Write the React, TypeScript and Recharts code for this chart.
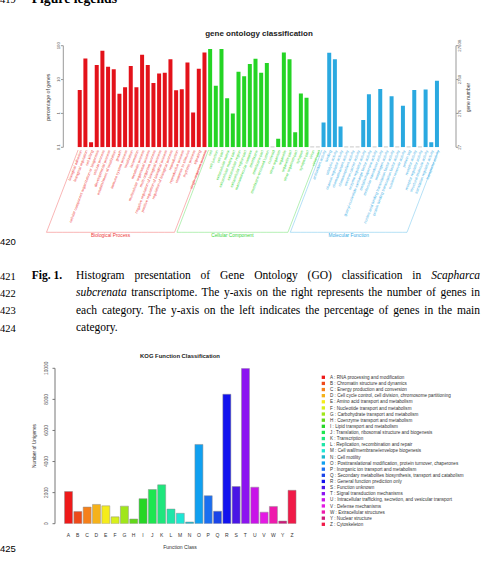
import React from 'react';
import { BarChart, Bar, XAxis, YAxis, Cell } from 'recharts';

const SANS = '"Liberation Sans", Arial, sans-serif';
const SERIF = '"Liberation Serif", "Times New Roman", serif';

// ---- Fig. 1: GO classification (percentage of genes, log scale) ----
const bpTerms = [
  'biological adhesion', 'biological regulation', 'cell killing',
  'cellular component organization or biogenesis', 'cellular process', 'developmental process',
  'establishment of localization', 'growth', 'immune system process', 'localization', 'locomotion',
  'metabolic process', 'multicellular organismal process', 'multi-organism process',
  'negative regulation of biological process', 'positive regulation of biological process',
  'regulation of biological process', 'reproduction', 'reproductive process', 'response to stimulus',
  'rhythmic process', 'signaling', 'single-organism process',
];
const bpPct = [4.9, 42, 0.14, 27, 71, 24, 20, 3.8, 5.9, 25, 5.9, 54, 27, 7.9, 15, 16, 40, 4.8, 5.2, 32, 1.07, 21, 63];

const ccTerms = [
  'cell', 'cell junction', 'cell part', 'extracellular matrix', 'extracellular matrix part',
  'extracellular region', 'extracellular region part', 'macromolecular complex', 'membrane',
  'membrane part', 'membrane-enclosed lumen', 'nucleoid', 'other organism', 'organelle',
  'organelle part', 'other organism part', 'synapse', 'synapse part', 'virion', 'virion part',
];
const ccPct = [80, 6.6, 80, 2.8, 1.0, 17, 12.6, 29, 41, 16, 31, 0, 0.18, 63, 40, 0.28, 3.9, 2.9, 0, 0];

const mfTerms = [
  'antioxidant activity', 'binding', 'catalytic activity', 'channel regulator activity',
  'chemoattractant activity', 'chemorepellent activity', 'electron carrier activity',
  'enzyme regulator activity', 'guanyl-nucleotide exchange factor activity', 'metallochaperone activity',
  'molecular transducer activity', 'morphogen activity', 'nucleic acid binding transcription factor activity',
  'protein binding transcription factor activity', 'nutrient reservoir activity', 'protein tag',
  'receptor activity', 'receptor regulator activity', 'structural molecule activity',
  'translation regulator activity', 'transporter activity',
];
const mfPct = [0.54, 62, 40, 0.41, 0, 0, 0, 0.64, 3.7, 0, 5.3, 0, 3.2, 0, 1.7, 0, 4.9, 0, 5.1, 0.14, 9.3];

const goGroupNames = ['Biological Process', 'Cellular Component', 'Molecular Function'];
const goBarColors = ['#e3121a', '#25d425', '#2aa9e0'];
const goTextColors = ['#ee3a3a', '#3ad63a', '#3aaee6'];
const goPctTicks = [0.1, 1, 10, 100];
const goTotalGenes = 27608;

// ---- Fig. 2: KOG function classification ----
const kogCodes = ['A', 'B', 'C', 'D', 'E', 'F', 'G', 'H', 'I', 'J', 'K', 'L', 'M', 'N', 'O', 'P', 'Q', 'R', 'S', 'T', 'U', 'V', 'W', 'Y', 'Z'];
const kogNames = [
  'RNA processing and modification',
  'Chromatin structure and dynamics',
  'Energy production and conversion',
  'Cell cycle control, cell division, chromosome partitioning',
  'Amino acid transport and metabolism',
  'Nucleotide transport and metabolism',
  'Carbohydrate transport and metabolism',
  'Coenzyme transport and metabolism',
  'Lipid transport and metabolism',
  'Translation, ribosomal structure and biogenesis',
  'Transcription',
  'Replication, recombination and repair',
  'Cell wall/membrane/envelope biogenesis',
  'Cell motility',
  'Posttranslational modification, protein turnover, chaperones',
  'Inorganic ion transport and metabolism',
  'Secondary metabolites biosynthesis, transport and catabolism',
  'General function prediction only',
  'Function unknown',
  'Signal transduction mechanisms',
  'Intracellular trafficking, secretion, and vesicular transport',
  'Defense mechanisms',
  'Extracellular structures',
  'Nuclear structure',
  'Cytoskeleton',
];
const kogCounts = [2070, 780, 1070, 1240, 1150, 440, 1130, 300, 1610, 2200, 2500, 940, 670, 110, 5100, 1800, 800, 8330, 2390, 10000, 2350, 740, 1110, 170, 2150];
const kogColors = [
  '#ee1a1a', '#ee4a1a', '#f5801a', '#f5b21a', '#f5ec1a', '#d8f01a', '#a0e61a', '#62d81a', '#26d626',
  '#1ee650', '#1ee67c', '#1ee6a8', '#1ee6d4', '#1ab8cc', '#10a0f0', '#1b6ef0', '#1a44e8', '#1212ee',
  '#4a16e6', '#8c14f0', '#c814e8', '#e41ae4', '#ee1aac', '#cc1a78', '#f01a48',
];
const kogTicks = [0, 2000, 4000, 6000, 8000, 10000];

type GoRow = { term: string; pct: number | null; group: number };
const goRows: GoRow[] = [
  ...bpTerms.map((term, i) => ({ term, pct: bpPct[i] || null, group: 0 })),
  ...ccTerms.map((term, i) => ({ term, pct: ccPct[i] || null, group: 1 })),
  ...mfTerms.map((term, i) => ({ term, pct: mfPct[i] || null, group: 2 })),
];
const groupSize = [bpTerms.length, ccTerms.length, mfTerms.length];
const groupStart = [0, groupSize[0], groupSize[0] + groupSize[1]];

const kogRows = kogCodes.map((code, i) => ({ code, count: kogCounts[i] }));

// layout of the GO panel
const GO_TOP = 45.7;
const GO_BOTTOM = 147.3;
const GO_LEFT = 63.3;
const GO_RIGHT = 456;
const GO_PAD_L = 13.6;
const GO_PAD_R = 16.2;
const GO_BAND = (GO_RIGHT - GO_LEFT - GO_PAD_L - GO_PAD_R) / goRows.length;
const LABEL_ANGLE = 69;
const BR_TOP = 2.7;
const BR_BOTTOM = 85;
const SLANT = (BR_BOTTOM - BR_TOP) / Math.tan((LABEL_ANGLE * Math.PI) / 180);

// layout of the KOG panel
const KOG_TOP = 368.3;
const KOG_BOTTOM = 523.7;
const KOG_LEFT = 55;
const KOG_RIGHT = 296.6;

function GoTick({ x, y, payload }: any) {
  const i = goRows.findIndex((r) => r.term === payload.value);
  if (i < 0) return null;
  const row = goRows[i];
  const g = row.group;
  const c = goTextColors[g];
  const first = i === groupStart[g];
  const last = i === groupStart[g] + groupSize[g] - 1;
  const inset = 1.2;
  const yt = y + BR_TOP;
  const yb = y + BR_BOTTOM;
  const l = x - GO_BAND / 2 + (first ? inset : 0);
  const r = x + GO_BAND / 2 - (last ? inset : 0);
  const mid = (groupSize[g] - 1) / 2;
  const isMid = i - groupStart[g] === Math.floor(mid);
  const labelX = x + (mid - Math.floor(mid)) * GO_BAND - SLANT;
  const br = { stroke: c, strokeWidth: 0.5, strokeOpacity: 0.75 };
  return (
    <g>
      {row.pct === null && (
        <line x1={x - 2} x2={x + 2} y1={y - 0.4} y2={y - 0.4} stroke="#bbbbbb" strokeWidth={0.8} />
      )}
      <text
        transform={`translate(${x + 1.2},${y + 3}) rotate(${-LABEL_ANGLE})`}
        textAnchor="end"
        dy="0.35em"
        fontSize={3.8}
        fill={c}
        fontFamily={SANS}
      >
        {row.term}
      </text>
      <line x1={l - SLANT} x2={r - SLANT} y1={yb} y2={yb} {...br} />
      {first && <line x1={l} y1={yt} x2={l - SLANT} y2={yb} {...br} />}
      {last && <line x1={r} y1={yt} x2={r - SLANT} y2={yb} {...br} />}
      {isMid && (
        <text x={labelX} y={yb + 5.1} textAnchor="middle" fontSize={4.8} fill={c} fontFamily={SANS}>
          {goGroupNames[g]}
        </text>
      )}
    </g>
  );
}

function VTick({ x, y, payload, shift, size, fmt }: any) {
  return (
    <text
      transform={`translate(${x + shift},${y}) rotate(-90)`}
      textAnchor="middle"
      dy="0.35em"
      fontSize={size}
      fill="#555"
      fontFamily={SANS}
    >
      {fmt(payload.value)}
    </text>
  );
}

function KogTick({ x, y, payload }: any) {
  return (
    <text x={x} y={y + 13.1} textAnchor="middle" fontSize={5} fill="#333" fontFamily={SANS}>
      {payload.value}
    </text>
  );
}

const abs = (left: number, top: number): React.CSSProperties => ({ position: 'absolute', left, top });

const capFont: React.CSSProperties = {
  fontFamily: SERIF,
  fontSize: 11.5,
  lineHeight: '11.5px',
  color: '#000',
};

function CapLine({ top, num, children, last }: { top: number; num: string; children: React.ReactNode; last?: boolean }) {
  return (
    <>
      <div style={{ ...abs(0, top + 0.5), ...capFont, fontSize: 10.5 }}>{num}</div>
      <div
        style={{
          ...abs(76, top),
          ...capFont,
          width: 404,
          textAlign: last ? 'left' : 'justify',
          textAlignLast: last ? 'left' : 'justify',
        }}
      >
        {children}
      </div>
    </>
  );
}

export default function App() {
  const legendY0 = 377.3;
  const legendStep = 6.125;
  return (
    <div style={{ position: 'absolute', left: 0, top: 0, width: 483, height: 568, overflow: 'hidden', background: '#fff' }}>
      {/* GO panel */}
      <div style={abs(0, 0)}>
        <BarChart
          width={483}
          height={568}
          data={goRows}
          margin={{ top: GO_TOP, right: 0, bottom: 568 - GO_BOTTOM - 100, left: 0 }}
          barCategoryGap="14.5%"
        >
          <XAxis
            dataKey="term"
            height={100}
            interval={0}
            padding={{ left: GO_PAD_L, right: GO_PAD_R }}
            axisLine={false}
            tickLine={false}
            tickSize={0}
            tickMargin={0}
            tick={(p: any) => <GoTick {...p} />}
          />
          <YAxis
            yAxisId="pct"
            width={GO_LEFT}
            scale="log"
            domain={[0.1, 100]}
            allowDataOverflow
            ticks={goPctTicks}
            tickSize={2.3}
            tickMargin={0}
            axisLine={{ stroke: '#999' }}
            tickLine={{ stroke: '#999' }}
            tick={(p: any) => <VTick {...p} shift={-2.7} size={4.3} fmt={(v: number) => String(v)} />}
          />
          <YAxis
            yAxisId="gene"
            orientation="right"
            width={483 - GO_RIGHT}
            scale="log"
            domain={[goTotalGenes / 1000, goTotalGenes]}
            allowDataOverflow
            ticks={goPctTicks.map((p) => (p * goTotalGenes) / 100)}
            tickSize={2.3}
            tickMargin={0}
            axisLine={{ stroke: '#999' }}
            tickLine={{ stroke: '#999' }}
            tick={(p: any) => <VTick {...p} shift={1.6} size={4.3} fmt={(v: number) => String(Math.floor(v + 1e-6))} />}
          />
          <Bar yAxisId="pct" dataKey="pct" isAnimationActive={false}>
            {goRows.map((r, i) => (
              <Cell key={i} fill={goBarColors[r.group]} />
            ))}
          </Bar>
        </BarChart>
      </div>

      {/* KOG panel */}
      <div style={abs(0, 0)}>
        <BarChart
          width={483}
          height={568}
          data={kogRows}
          margin={{ top: KOG_TOP, right: 483 - KOG_RIGHT, bottom: 568 - KOG_BOTTOM - 20, left: 0 }}
          barCategoryGap="8%"
        >
          <XAxis
            dataKey="code"
            height={20}
            interval={0}
            padding={{ left: 8.8, right: 0 }}
            axisLine={false}
            tickLine={false}
            tickSize={0}
            tickMargin={0}
            tick={(p: any) => <KogTick {...p} />}
          />
          <YAxis
            width={KOG_LEFT}
            domain={[0, 10000]}
            allowDataOverflow
            ticks={kogTicks}
            tickSize={2.5}
            tickMargin={0}
            axisLine={{ stroke: '#777' }}
            tickLine={{ stroke: '#777' }}
            tick={(p: any) => <VTick {...p} shift={-6.2} size={4.8} fmt={(v: number) => String(v)} />}
          />
          <Bar dataKey="count" stroke="#8c8c8c" strokeWidth={0.5} isAnimationActive={false}>
            {kogRows.map((r, i) => (
              <Cell key={r.code} fill={kogColors[i]} />
            ))}
          </Bar>
        </BarChart>
      </div>

      {/* titles, axis titles, legend, line numbers */}
      <svg width={483} height={568} style={{ position: 'absolute', left: 0, top: 0, pointerEvents: 'none' }}>
        <text x={0} y={2.7} fontSize={10.5} fontFamily={SERIF}>419</text>
        <text x={31.7} y={2.7} fontSize={13.7} fontWeight="bold" fontFamily={SERIF}>Figure legends</text>

        <text x={259} y={36.1} textAnchor="middle" fontSize={8} fontWeight="bold" fontFamily={SANS} fill="#222">
          gene ontology classification
        </text>
        <text transform="translate(47.7,97.2) rotate(-90)" dy="0.35em" textAnchor="middle" fontSize={5.2} fontFamily={SANS} fill="#444">
          percentage of genes
        </text>
        <text transform="translate(468.3,97.5) rotate(-90)" dy="0.35em" textAnchor="middle" fontSize={5} fontFamily={SANS} fill="#444">
          gene number
        </text>
        <text x={0} y={245.3} fontSize={9.5} fontFamily={SANS}>420</text>

        <text x={180} y={357.8} textAnchor="middle" fontSize={5.9} fontWeight="bold" fontFamily={SANS} fill="#222">
          KOG Function Classification
        </text>
        <text transform="translate(34.3,446) rotate(-90)" dy="0.35em" textAnchor="middle" fontSize={4.8} fontFamily={SANS} fill="#333">
          Number of Unigenes
        </text>
        <text x={180} y={549.1} textAnchor="middle" fontSize={5.1} fontFamily={SANS} fill="#333">
          Function Class
        </text>
        {kogCodes.map((code, i) => {
          const cy = legendY0 + i * legendStep;
          return (
            <g key={code}>
              <rect x={321.7} y={cy - 1.65} width={3.3} height={3.3} fill={kogColors[i]} />
              <text x={330} y={cy + 1.6} fontSize={4.6} fontFamily={SANS} fill="#333">
                {code} : {kogNames[i]}
              </text>
            </g>
          );
        })}
        <text x={0} y={552.3} fontSize={9.5} fontFamily={SANS}>425</text>
      </svg>

      {/* caption of Fig. 1 */}
      <div style={{ ...abs(0, 270.5), ...capFont, fontSize: 10.5 }}>421</div>
      <div style={{ ...abs(31.7, 270), ...capFont, fontWeight: 'bold' }}>Fig. 1.</div>
      <div style={{ ...abs(76, 270), ...capFont, width: 404, textAlign: 'justify', textAlignLast: 'justify' }}>
        Histogram presentation of Gene Ontology (GO) classification in <i>Scapharca</i>
      </div>
      <CapLine top={287.4} num="422">
        <i>subcrenata</i> transcriptome. The y-axis on the right represents the number of genes in
      </CapLine>
      <CapLine top={304.7} num="423">
        each category. The y-axis on the left indicates the percentage of genes in the main
      </CapLine>
      <CapLine top={322} num="424" last>
        category.
      </CapLine>
    </div>
  );
}
